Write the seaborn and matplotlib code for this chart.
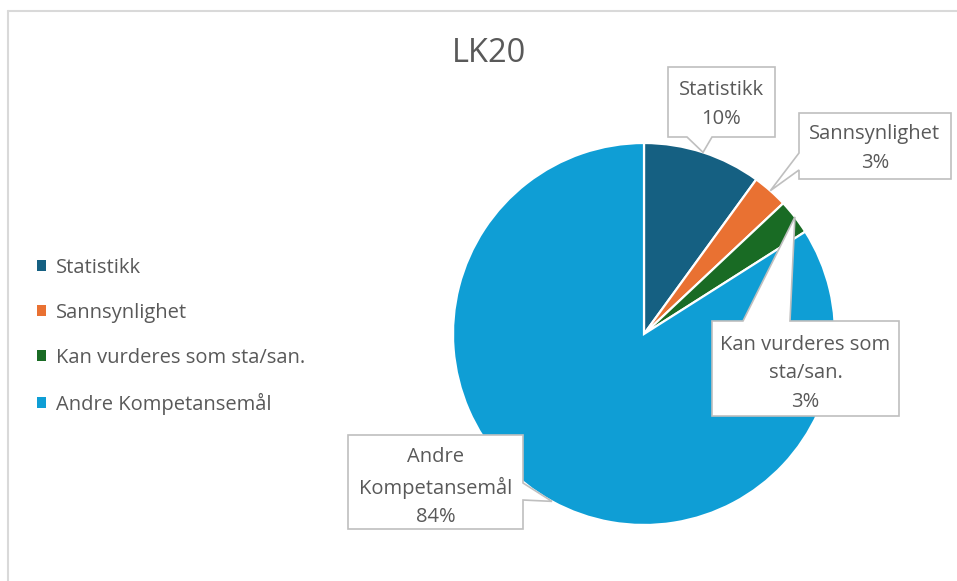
import matplotlib
matplotlib.use("Agg")
import matplotlib.pyplot as plt
import seaborn as sns
from matplotlib.patches import Polygon, Patch
from matplotlib.lines import Line2D
import numpy as np

categories = ["Statistikk", "Sannsynlighet", "Kan vurderes som sta/san.", "Andre Kompetansemål"]
callout_names = ["Statistikk", "Sannsynlighet", "Kan vurderes som\nsta/san.", "Andre\nKompetansemål"]
values = [10, 3, 3, 84]
title = "LK20"

colors = ["#156082", "#E97132", "#196B24", "#0F9ED5"]
sns.set_theme(style="white")
plt.rcParams["font.family"] = ["Open Sans", "DejaVu Sans"]
TXT = "#595959"

W, H = 957, 581
fig = plt.figure(figsize=(W / 100, H / 100), dpi=100)

# pie axes: centre (644, 334) px, radius 191 px
cx, cy, R = 644, 334, 191
ax = fig.add_axes([(cx - R) / W, (H - cy - R) / H, 2 * R / W, 2 * R / H])
wedges, _ = ax.pie(values, colors=colors, startangle=90, counterclock=False,
                   radius=1, wedgeprops=dict(edgecolor="white", linewidth=1.6))
ax.set_xlim(-1, 1)
ax.set_ylim(-1, 1)
ax.set_aspect("equal")
ax.axis("off")

fig.text(489 / W, 1 - 53 / H, title, ha="center", va="center", fontsize=23.5, color=TXT)

# frame
fig.add_artist(Line2D([8 / W, 1], [1 - 11 / H, 1 - 11 / H], transform=fig.transFigure,
                      color="#D9D9D9", lw=1.5))
fig.add_artist(Line2D([8 / W, 8 / W], [0, 1 - 11 / H], transform=fig.transFigure,
                      color="#D9D9D9", lw=1.5))

# legend
handles = [Patch(facecolor=c, edgecolor="none") for c in colors]
fig.legend(handles, categories, loc="upper left", bbox_to_anchor=(37 / W, 1 - 258 / H),
           frameon=False, fontsize=14.5, labelcolor=TXT, handlelength=0.45, handleheight=0.45,
           handletextpad=0.5, labelspacing=1.24, borderaxespad=0, borderpad=0)

# callouts: box (x0, y0, x1, y1) in px from top-left, pointer base, edge
boxes = [
    ((668, 67, 775, 137), ("bottom", 687, 712)),
    ((799, 113, 951, 179), ("left", 153, 170)),
    ((712, 321, 899, 416), ("top", 743, 790)),
    ((348, 435, 523, 529), ("right", 483, 500)),
]


def to_fig(x, y):
    return (x / W, 1 - y / H)


for w, v, name, (box, (side, a, b)) in zip(wedges, values, callout_names, boxes):
    ang = np.deg2rad((w.theta1 + w.theta2) / 2)
    tip_disp = ax.transData.transform((np.cos(ang), np.sin(ang)))
    tx, ty = tip_disp[0], H - tip_disp[1]
    x0, y0, x1, y1 = box
    if side == "bottom":
        pts = [(x0, y0), (x1, y0), (x1, y1), (b, y1), (tx, ty), (a, y1), (x0, y1)]
    elif side == "left":
        pts = [(x0, y0), (x1, y0), (x1, y1), (x0, y1), (x0, b), (tx, ty), (x0, a)]
    elif side == "top":
        pts = [(x0, y0), (a, y0), (tx, ty), (b, y0), (x1, y0), (x1, y1), (x0, y1)]
    else:
        pts = [(x0, y0), (x1, y0), (x1, a), (tx, ty), (x1, b), (x1, y1), (x0, y1)]
    poly = Polygon([to_fig(*p) for p in pts], closed=True, transform=fig.transFigure,
                   facecolor="white", edgecolor="#BFBFBF", lw=1.2, zorder=5)
    fig.add_artist(poly)
    off = 5 if "\n" in name else 2.5
    fx, fy = to_fig((x0 + x1) / 2, (y0 + y1) / 2 + off)
    fig.text(fx, fy, f"{name}\n{v}%", ha="center", va="center", fontsize=14.5,
             color=TXT, linespacing=1.55, zorder=6)

fig.savefig("out.png", dpi=100, facecolor="white")
